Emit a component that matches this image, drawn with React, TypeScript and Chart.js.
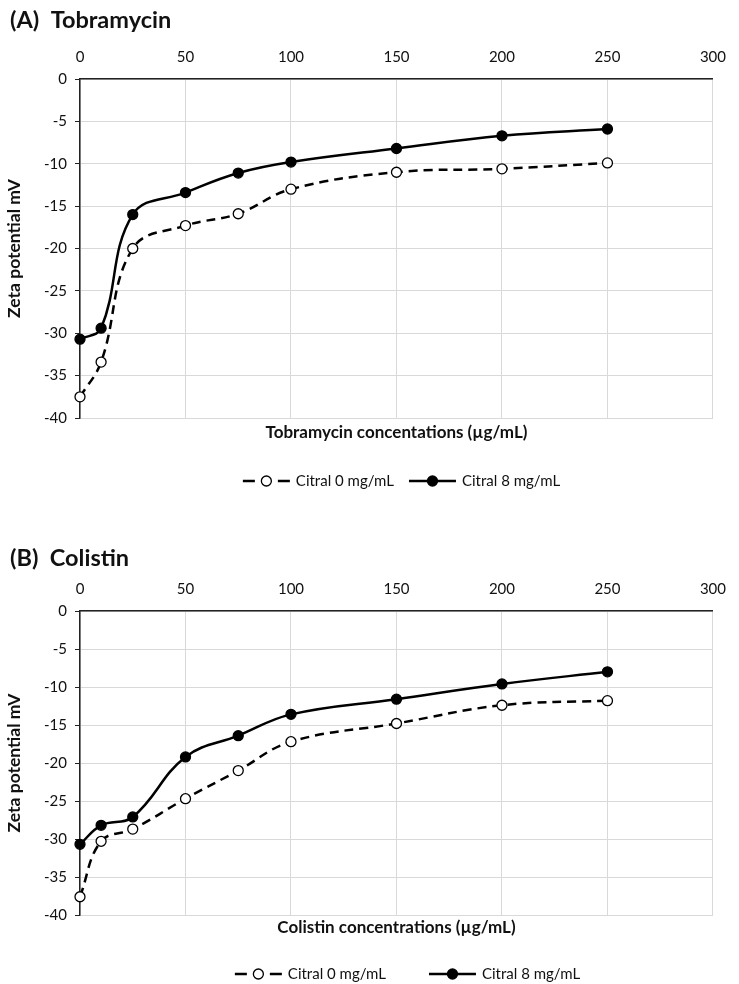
import React, { useEffect, useRef } from "react";
import { Chart, registerables } from "chart.js";

Chart.register(...registerables);

// ---------- data ----------
const concentrations = [0, 10, 25, 50, 75, 100, 150, 200, 250];
const tobraCitral0 = [-37.5, -33.4, -20.0, -17.3, -15.9, -13.0, -11.0, -10.6, -9.9];
const tobraCitral8 = [-30.7, -29.4, -16.0, -13.4, -11.1, -9.8, -8.2, -6.7, -5.9];
const colisCitral0 = [-37.6, -30.3, -28.7, -24.7, -21.0, -17.2, -14.8, -12.4, -11.8];
const colisCitral8 = [-30.7, -28.2, -27.1, -19.2, -16.4, -13.6, -11.6, -9.6, -8.0];
const seriesLabels = ["Citral 0 mg/mL", "Citral 8 mg/mL"];
const xMin = 0;
const xMax = 300;
const xStep = 50;
const yMin = -40;
const yMax = 0;
const yStep = 5;
const yTitle = "Zeta potential mV";

const FONT = "Lato, 'Open Sans', sans-serif";
const TEXT = "#111";
const AXIS = "#222";
const GRID = "#d9d9d9";

const legendPlugin = {
  id: "excelLegend",
  afterDraw(chart: any, _args: any, opts: any) {
    const { ctx, chartArea } = chart;
    ctx.save();
    ctx.font = `15px ${FONT}`;
    const lineLen = 47;
    const textGap = 6;
    const items = chart.data.datasets.map((ds: any) => ({
      ds,
      w: lineLen + textGap + ctx.measureText(ds.label).width,
    }));
    const total =
      items.reduce((s: number, i: any) => s + i.w, 0) + opts.gap * (items.length - 1);
    let x = (chartArea.left + chartArea.right) / 2 + opts.shift - total / 2;
    const y = chartArea.bottom + opts.offset;
    items.forEach(({ ds, w }: any) => {
      ctx.strokeStyle = ds.borderColor;
      ctx.lineWidth = ds.borderWidth;
      ctx.lineCap = "butt";
      ctx.setLineDash(ds.borderDash && ds.borderDash.length ? [12, lineLen - 24] : []);
      ctx.beginPath();
      ctx.moveTo(x, y);
      ctx.lineTo(x + lineLen, y);
      ctx.stroke();
      ctx.setLineDash([]);
      ctx.beginPath();
      ctx.arc(x + lineLen / 2, y, ds.pointRadius, 0, Math.PI * 2);
      ctx.fillStyle = ds.pointBackgroundColor;
      ctx.fill();
      ctx.lineWidth = ds.pointBorderWidth;
      ctx.strokeStyle = ds.pointBorderColor;
      ctx.stroke();
      ctx.fillStyle = TEXT;
      ctx.textBaseline = "middle";
      ctx.textAlign = "left";
      ctx.fillText(ds.label, x + lineLen + textGap, y);
      x += w + opts.gap;
    });
    ctx.restore();
  },
};

type PanelProps = {
  title: string;
  xTitle: string;
  citral0: number[];
  citral8: number[];
  height: number;
  padTop: number;
  padBottom: number;
  xAxisHeight: number;
  xTitlePad: number;
  legendOffset: number;
  legendGap: number;
  legendShift: number;
};

function Panel(p: PanelProps) {
  const ref = useRef<HTMLCanvasElement | null>(null);
  useEffect(() => {
    if (!ref.current) return;
    const chart = new Chart(ref.current, {
      type: "line",
      data: {
        datasets: [
          {
            label: seriesLabels[0],
            data: concentrations.map((x, i) => ({ x, y: p.citral0[i] })),
            borderColor: "#000",
            borderWidth: 2.5,
            borderDash: [9, 6],
            tension: 0.4,
            pointRadius: 5,
            pointBackgroundColor: "#fff",
            pointBorderColor: "#000",
            pointBorderWidth: 1.3,
            fill: false,
            clip: false,
          },
          {
            label: seriesLabels[1],
            data: concentrations.map((x, i) => ({ x, y: p.citral8[i] })),
            borderColor: "#000",
            borderWidth: 2.5,
            borderDash: [],
            tension: 0.4,
            pointRadius: 5,
            pointBackgroundColor: "#000",
            pointBorderColor: "#000",
            pointBorderWidth: 1.3,
            fill: false,
            clip: false,
          },
        ] as any,
      },
      options: {
        responsive: false,
        animation: false,
        events: [],
        layout: {
          padding: { top: p.padTop, left: 10, right: 16, bottom: p.padBottom },
        },
        plugins: {
          legend: { display: false },
          tooltip: { enabled: false },
          title: {
            display: true,
            text: p.title,
            align: "start",
            color: TEXT,
            font: { size: 23.5, weight: "bold", family: FONT, lineHeight: 1.2 },
            padding: { top: 5.9, bottom: 5.9 },
          },
          excelLegend: {
            offset: p.legendOffset,
            gap: p.legendGap,
            shift: p.legendShift,
          },
        } as any,
        scales: {
          x: {
            type: "linear",
            position: "top",
            min: xMin,
            max: xMax,
            ticks: {
              stepSize: xStep,
              padding: 13,
              color: TEXT,
              font: { size: 15, family: FONT, lineHeight: 1.2 },
            },
            grid: { color: GRID, drawTicks: false },
            border: { color: AXIS, width: 1.5 },
            afterFit: (s: any) => {
              s.height = p.xAxisHeight;
            },
          },
          x2: {
            type: "linear",
            position: "bottom",
            ticks: { display: false },
            grid: { display: false, drawTicks: false },
            border: { display: false },
            title: {
              display: true,
              text: p.xTitle,
              color: TEXT,
              font: { size: 17, weight: "bold", family: FONT, lineHeight: 1.2 },
              padding: { top: p.xTitlePad, bottom: 2 },
            },
          },
          y: {
            type: "linear",
            position: "left",
            min: yMin,
            max: yMax,
            ticks: {
              stepSize: yStep,
              padding: 8,
              color: TEXT,
              font: { size: 15, family: FONT, lineHeight: 1.2 },
            },
            grid: { color: GRID, tickColor: AXIS, tickLength: 5 },
            border: { color: AXIS, width: 1.5 },
            title: {
              display: true,
              text: yTitle,
              color: TEXT,
              font: { size: 17.5, weight: "bold", family: FONT, lineHeight: 1.2 },
              padding: { top: -6.5, bottom: 0 },
            },
            afterFit: (s: any) => {
              s.width = 70;
            },
          },
        } as any,
      },
      plugins: [legendPlugin as any],
    });
    return () => chart.destroy();
  }, []);
  return (
    <canvas
      ref={ref}
      width={739}
      height={p.height}
      style={{ display: "block", width: 739, height: p.height }}
    />
  );
}

export default function App() {
  return (
    <div
      style={{
        position: "absolute",
        left: 0,
        top: 0,
        width: 739,
        height: 984,
        background: "#fff",
        overflow: "hidden",
      }}
    >
      <Panel
        title="(A)  Tobramycin"
        xTitle="Tobramycin concentations (µg/mL)"
        citral0={tobraCitral0}
        citral8={tobraCitral8}
        height={500}
        padTop={0}
        padBottom={54.8}
        xAxisHeight={39}
        xTitlePad={4.8}
        legendOffset={63}
        legendGap={15}
        legendShift={5}
      />
      <Panel
        title="(B)  Colistin"
        xTitle="Colistin concentrations (µg/mL)"
        citral0={colisCitral0}
        citral8={colisCitral8}
        height={484}
        padTop={38}
        padBottom={43.8}
        xAxisHeight={33}
        xTitlePad={2.8}
        legendOffset={59}
        legendGap={43}
        legendShift={11}
      />
    </div>
  );
}
